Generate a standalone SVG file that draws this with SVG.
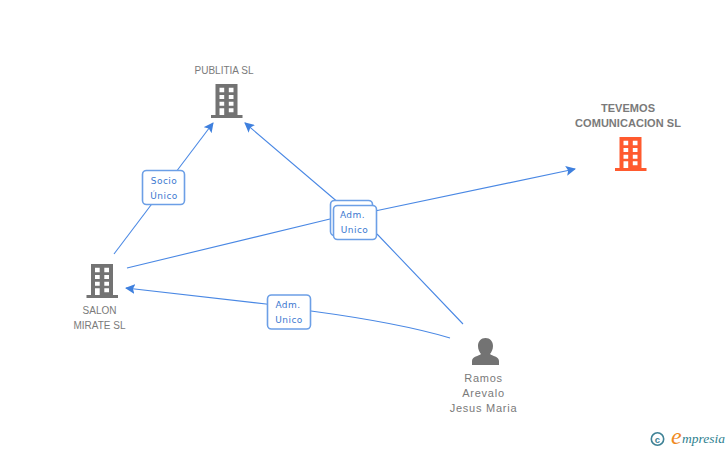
<svg xmlns="http://www.w3.org/2000/svg" width="728" height="450" viewBox="0 0 728 450">
<style>
.t{font-family:"Liberation Sans",Arial,sans-serif;font-size:10px;fill:#7a7a7a;text-anchor:middle}
.b{font-weight:bold;font-size:11px;letter-spacing:.05px}
.p{font-size:11px;letter-spacing:.75px}
.c{fill:none;stroke:#4a88e4;stroke-width:1.1}
.box{fill:#fff;stroke:#6c9fe6;stroke-width:1.6}
.l{font-family:"DejaVu Sans",sans-serif;font-size:9px;fill:#3b78d0;text-anchor:middle;letter-spacing:.45px}
</style>
<defs>
<marker id="ah" markerUnits="userSpaceOnUse" markerWidth="11" markerHeight="10" refX="9" refY="5" orient="auto"><path d="M0 0L10 5L0 10L2 5Z" fill="#3f80de"/></marker>
<path id="bld" fill-rule="evenodd" d="M4.500 0H26.500V31H31.500V34H0V31H4.500ZM8.500 3.700V8.300H13.200V3.700ZM17.800 3.700V8.300H22.500V3.700ZM8.500 11V15H13.200V11ZM17.800 11V15H22.500V11ZM8.500 17.700V21.700H13.200V17.700ZM17.800 17.700V21.700H22.500V17.700ZM8.500 24.300V31H13.200V24.300ZM17.800 24.300V28.300H22.500V24.300Z"/>
</defs>
<g id="connectors">
<path class="c" marker-end="url(#ah)" d="M114 254L213 123"/>
<path class="c" marker-end="url(#ah)" d="M463 324L378 235L340 204L245 123"/>
<path class="c" marker-end="url(#ah)" d="M127 268L330 219L375 211L575 169"/>
<path class="c" marker-end="url(#ah)" d="M450 338Q400 323 311 311L266 304L126 288"/>
</g>
<g id="node-publitia" fill="#737373"><use href="#bld" x="211" y="84"/><text class="t" x="224" y="74">PUBLITIA SL</text></g>
<g id="node-tevemos" fill="#ff5a2e"><use href="#bld" x="615" y="137"/><text class="t b" x="628" y="112">TEVEMOS</text><text class="t b" x="628" y="127">COMUNICACION SL</text></g>
<g id="node-salon" fill="#737373"><use href="#bld" x="86.500" y="264"/><text class="t" x="99.500" y="314">SALON</text><text class="t" x="99.500" y="329">MIRATE SL</text></g>
<g id="node-ramos">
<path fill="#737373" d="M485.500 338C490 338 493 341.500 493 346C493 349.500 491.500 352 490 354C492 356 499 356.500 499 361V365H472V361C472 356.500 479 356 481 354C479.500 352 478 349.500 478 346C478 341.500 481 338 485.500 338Z"/>
<text class="t p" x="483.500" y="382">Ramos</text><text class="t p" x="483.500" y="397">Arevalo</text><text class="t p" x="483.500" y="412">Jesus Maria</text>
</g>
<g id="label-socio"><rect class="box" x="142.500" y="170.500" width="42" height="34" rx="4"/><text class="l" x="164" y="184">Socio</text><text class="l" x="164" y="199">Único</text></g>
<g id="label-adm-left"><rect class="box" x="267.500" y="295" width="43" height="34" rx="4"/><text class="l" x="288" y="308">Adm.</text><text class="l" x="289" y="323">Unico</text></g>
<g id="label-adm-center"><rect class="box" x="330.500" y="200.500" width="42" height="35" rx="4"/><rect class="box" x="333.500" y="205.500" width="43" height="34" rx="4"/><text class="l" x="352.500" y="218">Adm.</text><text class="l" x="354.500" y="233">Unico</text></g>
<g id="logo">
<circle cx="657.500" cy="439" r="6.200" fill="none" stroke="#3f8296" stroke-width="1.600"/>
<text x="657.500" y="442.500" font-family="Liberation Sans,sans-serif" font-size="9.500" font-weight="bold" fill="#3f8296" text-anchor="middle">c</text>
<text x="671" y="444" font-family="Liberation Serif,serif" font-size="24" font-style="italic" fill="#f08a1e">e</text>
<text x="682" y="443" font-family="Liberation Serif,serif" font-size="13.500" font-style="italic" fill="#2f7f8f">mpresia</text>
</g>
</svg>
